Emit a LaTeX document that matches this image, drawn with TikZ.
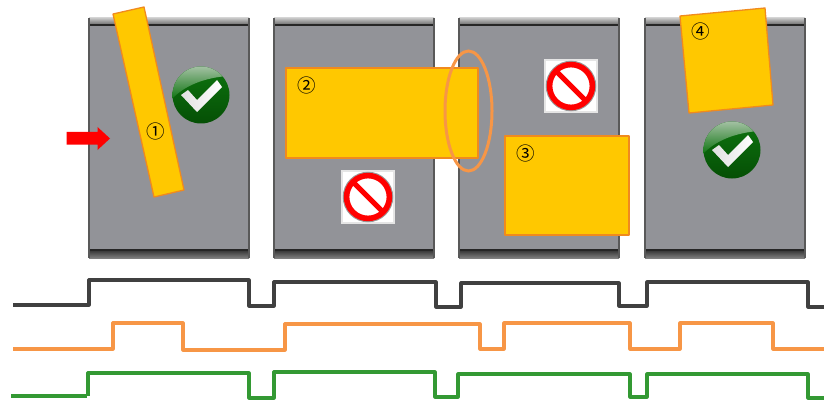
\documentclass[tikz,border=0pt]{standalone}
\usepackage{fontspec}
\setmainfont{DejaVu Sans}
\newfontfamily\circfont{Noto Sans CJK JP}
\usetikzlibrary{shadings}
\definecolor{panelgray}{HTML}{929398}
\definecolor{amber}{HTML}{FFC800}
\definecolor{amberedge}{HTML}{F08A1E}
\definecolor{oline}{HTML}{F79646}
\definecolor{kline}{HTML}{404040}
\definecolor{gline}{HTML}{339933}
\definecolor{okdark}{HTML}{054F05}
\definecolor{okmid}{HTML}{0E7410}
\definecolor{okglow}{HTML}{A9C4A9}
\tikzset{
  x=1pt,y=-1pt,
  amberbox/.style={fill=amber,draw=amberedge,line width=1.3pt,line join=round},
  tagnum/.style={font=\circfont\fontsize{18.5}{18.5}\selectfont,inner sep=0pt},
  trace/.style={line width=3.2pt,line join=round},
}
\newcommand{\panelat}[1]{%
  \begin{scope}[shift={(#1,0)}]
    \fill[panelgray] (0,18) rectangle (160,258);
    \shade[top color=black!22,bottom color=black!60] (0,18) rectangle (160,25);
    \draw[black!85,line width=1.1pt] (0,25) -- (160,25);
    \shade[top color=black!80,bottom color=black!50] (0,250) rectangle (160,258);
    \draw[black!85,line width=1.1pt] (0,250) -- (160,250);
    \draw[black!65,line width=1.2pt] (0,18) -- (0,258);
    \draw[black!65,line width=1.2pt] (160,18) -- (160,258);
  \end{scope}}
\newcommand{\okmark}[2]{%
  \begin{scope}[shift={(#1,#2)}]
    \shade[shading angle=135,top color=okmid,bottom color=okdark] (0,0) circle (28.5);
    \begin{scope}
      \clip (0,0) circle (28.5);
      \shade[shading angle=150,top color=okglow,bottom color=okmid]
        (-29,4) .. controls (-16,-10) and (4,-17) .. (26,-19) -- (26,-30) -- (-29,-30) -- cycle;
    \end{scope}
    \shade[left color=white!88!black,right color=white]
      (-20,0) -- (-13,-5) -- (-4,5) -- (16,-15) -- (21,-8) -- (-4,17) -- cycle;
  \end{scope}}
\newcommand{\nosign}[2]{%
  \begin{scope}[shift={(#1,#2)}]
    \fill[black!10] (-27,-27) rectangle (27,27);
    \fill[white] (-25,-25) rectangle (25,25);
    \draw[black!40,line width=1.3pt] (0,0) circle (24.6);
    \draw[red,line width=5.6pt] (0,0) circle (21.4);
    \draw[red,line width=5pt] (-15.2,-15.2) -- (15.2,15.2);
  \end{scope}}
\begin{document}
\begin{tikzpicture}
\useasboundingbox (0,0) rectangle (824,401);
\panelat{89}\panelat{274}\panelat{459}\panelat{645}
\path[amberbox] (113,14) -- (144,7) -- (184,190) -- (154,197) -- cycle;
\node[tagnum] (n1) at (155.5,131.5) {①};
\path[amberbox] (286,68) rectangle (478,158);
\node[tagnum] (n2) at (307,85) {②};
\draw[oline,line width=3pt] (468.5,111) ellipse [x radius=23.5,y radius=60];
\path[amberbox] (505,136) rectangle (629,235);
\node[tagnum] (n3) at (526,153) {③};
\path[amberbox] (680,16) -- (765,8) -- (773,105) -- (689,113) -- cycle;
\node[tagnum] (n4) at (701,31) {④};
\okmark{201}{95}\okmark{732}{150}
\nosign{368}{197}\nosign{571}{86}
\fill[red] (66.5,132) -- (97.5,132) -- (97.5,127) -- (110,138.5) -- (97.5,150) -- (97.5,144.5) -- (66.5,144.5) -- cycle;
\draw[trace,kline] (13,305) -- (89,305) -- (89,280) -- (249,280) -- (249,306) -- (274,306) -- (274,282) -- (436,282) -- (436,307) -- (461,307) -- (461,283) -- (619,283) -- (619,306) -- (647,306) -- (647,282) -- (808,282) -- (808,307) -- (824,307);
\draw[trace,oline] (13,349) -- (113,349) -- (113,323) -- (183,323) -- (183,350) -- (285,350) -- (285,324) -- (480,324) -- (480,349) -- (504,349) -- (504,323) -- (630,323) -- (630,349) -- (680,349) -- (680,323) -- (773,323) -- (773,349) -- (824,349);
\draw[trace,gline] (11,396) -- (87,396) (88,396) -- (88,373) -- (249,373) -- (249,398) -- (274,398) -- (274,372) -- (435,372) -- (435,397) -- (458,397) -- (458,374) -- (630,374) -- (630,397) -- (647,397) -- (647,374) -- (808,374) -- (808,398) -- (824,398);
\end{tikzpicture}
\end{document}
